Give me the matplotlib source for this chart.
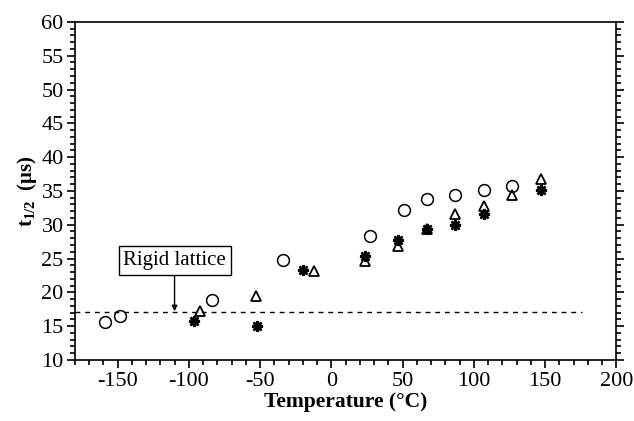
import matplotlib.pyplot as plt
from matplotlib.ticker import MultipleLocator

plt.rcParams['font.family'] = ['Liberation Serif', 'DejaVu Serif']
plt.rcParams['mathtext.fontset'] = 'custom'
plt.rcParams['mathtext.rm'] = 'Liberation Serif'
plt.rcParams['mathtext.bf'] = 'Liberation Serif:bold'
plt.rcParams['axes.unicode_minus'] = False

# half-width t1/2 vs temperature, three sample sets
circle_T = [-159, -148, -84, -34, 27, 51, 67, 87, 107, 127]
circle_t = [15.6, 16.5, 18.9, 24.8, 28.4, 32.2, 33.8, 34.45, 35.1, 35.8]

tri_T = [-92, -53, -12, 24, 47, 67, 87, 107, 127, 147]
tri_t = [17.3, 19.5, 23.1, 24.6, 26.9, 29.3, 31.6, 32.8, 34.4, 36.7]

star_T = [-96, -52, -20, 24, 47, 67, 87, 107, 147]
star_t = [15.8, 15.0, 23.3, 25.4, 27.75, 29.3, 30.0, 31.6, 35.2]

rigid_t = 17.1
rigid_T_end = 176
arrow_T = -110

fig = plt.figure(figsize=(6.34, 4.21), dpi=100)
ax = fig.add_axes([0.118, 0.145, 0.854, 0.803])

ax.plot(circle_T, circle_t, 'o', ls='none', mfc='none', mec='black', ms=8.5, mew=1.1)
ax.plot(tri_T, tri_t, '^', ls='none', mfc='none', mec='black', ms=7.5, mew=1.3)
ax.plot(star_T, star_t, marker=(8, 2, 0), ls='none', color='black', ms=8, mew=1.8)

ax.plot([-180, rigid_T_end], [rigid_t, rigid_t], color='black', ls=(0, (3.5, 3.5)), lw=1)

ax.annotate('Rigid lattice', xy=(arrow_T, rigid_t + 0.1), xytext=(arrow_T, 24.7),
            ha='center', va='center', fontsize=15,
            bbox=dict(boxstyle='square,pad=0.22', fc='white', ec='black', lw=1),
            arrowprops=dict(arrowstyle='-|>', color='black', lw=1, mutation_scale=8,
                            shrinkA=0, shrinkB=0))

ax.set_xlim(-180, 200)
ax.set_ylim(10, 60)
ax.xaxis.set_major_locator(MultipleLocator(50))
ax.xaxis.set_minor_locator(MultipleLocator(10))
ax.yaxis.set_major_locator(MultipleLocator(5))
ax.yaxis.set_minor_locator(MultipleLocator(1))
ax.set_xticks(range(-150, 201, 50))

ax.tick_params(which='both', direction='out', width=1.2, labelsize=16, colors='black')
ax.tick_params(which='major', length=6)
ax.tick_params(which='minor', length=3.5)
ax.tick_params(axis='y', which='both', right=True, labelright=False, pad=2)
ax.tick_params(axis='x', pad=3)

for side in ['left', 'right', 'bottom', 'top']:
    ax.spines[side].set_linewidth(1.2)

ax.set_xlabel('Temperature (°C)', fontsize=15.5, fontweight='bold', labelpad=0.5)
ax.set_ylabel(r'$\mathbf{t_{1/2}}$  (μs)', fontsize=15, fontweight='bold', labelpad=2)

fig.savefig('out.png', dpi=100)
